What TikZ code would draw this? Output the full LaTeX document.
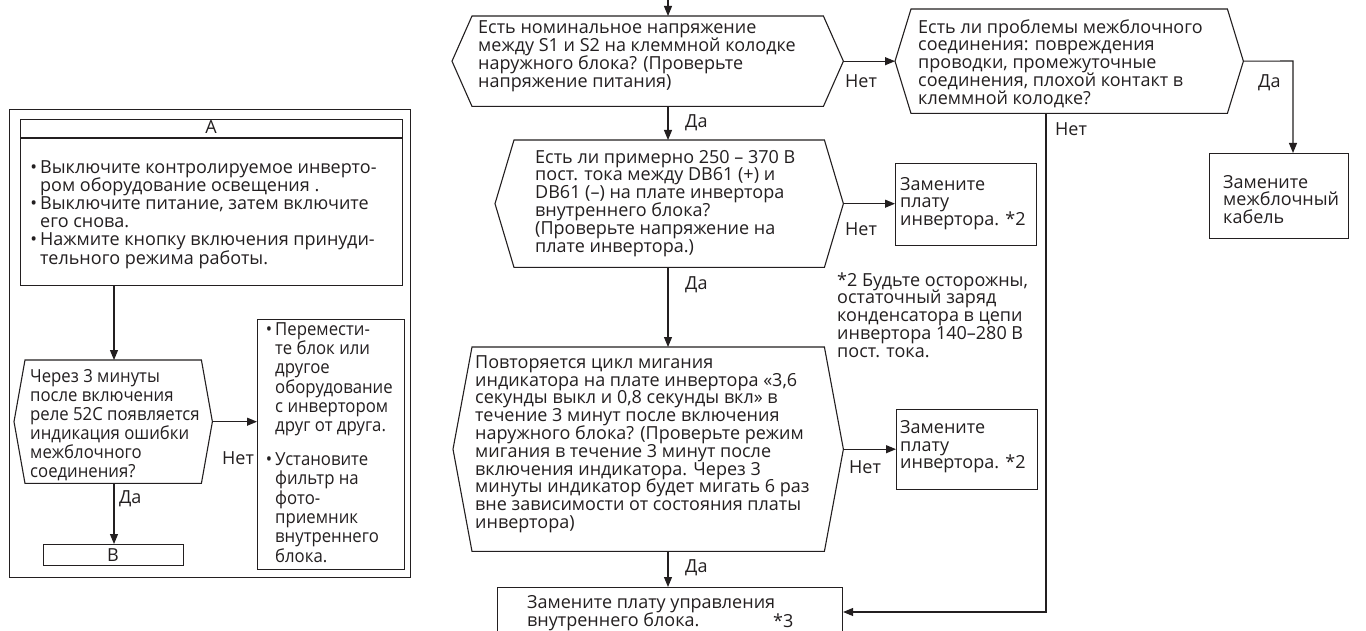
\documentclass[tikz,border=0pt]{standalone}
\usepackage{fontspec}
\setmainfont{Open Sans}
\newfontfamily\condf{Open Sans}[FakeStretch=0.93]
\usetikzlibrary{arrows.meta}
\definecolor{ink}{HTML}{231F20}
\newcommand\ts{\rule{0pt}{14pt}}
\newcommand\bul{\makebox[0pt][r]{•\hspace{3pt}}}
\newcommand\hexpath[2]{\draw[ln] (#1.west) -- ([xshift=#2]#1.north west) -- ([xshift=-#2]#1.north east) -- (#1.east) -- ([xshift=-#2]#1.south east) -- ([xshift=#2]#1.south west) -- cycle;}
\begin{document}
\lineskiplimit=-100pt
\lineskip=0pt
\begin{tikzpicture}[x=1pt,y=-1pt,
  ln/.style={draw=ink, line width=1.1pt},
  arr/.style={ln, -{Triangle[length=10pt,width=8pt]}},
  box/.style={draw=ink, line width=1.1pt, inner sep=0pt, anchor=north west},
  hexb/.style={inner sep=0pt, anchor=north west},
  txt/.style={inner sep=0pt, anchor=north west, align=left, text=ink, font=\fontsize{18}{17.8}\selectfont},
  txtL/.style={txt, font=\fontsize{18}{18.2}\selectfont},
  txtH/.style={txt, font=\condf\fontsize{18}{19}\selectfont},
  txtR/.style={txt, font=\condf\fontsize{18}{19.3}\selectfont},
  lbl/.style={inner sep=0pt, anchor=base west, text=ink, font=\fontsize{18}{18}\selectfont},
]
\useasboundingbox (0,0) rectangle (1366,631);
\fill[white] (0,0) rectangle (1366,631);

% ---------- left panel ----------
\node[box, minimum width=401, minimum height=468] (frameL) at (9,109) {};
\node[box, minimum width=382, minimum height=166] (bA) at (20,119) {};
\draw[ln] ([yshift=-19pt]bA.north west) -- ([yshift=-19pt]bA.north east);
\node[inner sep=0pt, anchor=base, text=ink, font=\fontsize{18}{18}\selectfont] (lA) at (211,134) {A};
\node[txtL] (tA) at (40,159) {\ts\bul Выключите контролируемое инверто-\\ром оборудование освещения .\\\bul Выключите питание, затем включите\\его снова.\\\bul Нажмите кнопку включения принуди-\\тельного режима работы.};

\node[hexb, minimum width=198, minimum height=123] (lh) at (14,360) {};
\hexpath{lh}{11pt}
\node[txtH] (tlh) at (30,368) {\ts Через 3 минуты\\после включения\\реле 52C появляется\\индикация ошибки\\межблочного\\соединения?};

\node[box, minimum width=147, minimum height=250] (lbox) at (257,319) {};
\node[txtR] (tlbox) at (275,321) {\ts\bul Перемести-\\те блок или\\другое\\оборудование\\с инвертором\\друг от друга.\\[14.5pt]\bul Установите\\фильтр на\\фото-\\приемник\\внутреннего\\блока.};

\node[box, minimum width=140, minimum height=21] (bB) at (43,544) {};
\node[inner sep=0pt, anchor=base, text=ink, font=\fontsize{18}{18}\selectfont] (lB) at (113,561) {B};

\coordinate (lx) at (114,300);
\draw[arr] (bA.south -| lx) -- (lx |- lh.north);
\draw[arr] (lh.east) -- (lh.east -| lbox.west);
\draw[arr] (lh.south -| lx) -- (lx |- bB.north);
\node[lbl] (nL) at (222,464) {Нет};
\node[lbl] (dL) at (119,503) {Да};

% ---------- centre column ----------
\coordinate (top) at (668,-2);
\node[hexb, minimum width=391, minimum height=90] (h1) at (452,16) {};
\hexpath{h1}{20pt}
\node[txt] (th1) at (478,19.5) {\ts Есть номинальное напряжение\\между S1 и S2 на клеммной колодке\\наружного блока? (Проверьте\\напряжение питания)};

\node[hexb, minimum width=348, minimum height=127] (h2) at (495,140) {};
\hexpath{h2}{19pt}
\node[txt] (th2) at (535,149) {\ts Есть ли примерно 250 – 370 В\\пост. тока между DB61 (+) и\\DB61 (–) на плате инвертора\\внутреннего блока?\\(Проверьте напряжение на\\плате инвертора.)};

\node[hexb, minimum width=390, minimum height=204] (h3) at (453,347) {};
\hexpath{h3}{19pt}
\node[txt] (th3) at (475,354) {\ts Повторяется цикл мигания\\индикатора на плате инвертора «3,6\\секунды выкл и 0,8 секунды вкл» в\\течение 3 минут после включения\\наружного блока? (Проверьте режим\\мигания в течение 3 минут после\\включения индикатора. Через 3\\минуты индикатор будет мигать 6 раз\\вне зависимости от состояния платы\\инвертора)};

\node[box, minimum width=345, minimum height=60] (bF) at (497,587) {};
\node[txt] (tF) at (527,594) {\ts Замените плату управления\\внутреннего блока.};
\node[lbl] (s3) at (773,627) {*3};

\draw[arr] (top) -- (top |- h1.north);
\draw[arr] (h1.south -| top) -- (top |- h2.north);
\draw[arr] (h2.south -| top) -- (top |- h3.north);
\draw[arr] (h3.south -| top) -- (top |- bF.north);
\node[lbl] (d1) at (685,128) {Да};
\node[lbl] (d2) at (685,290) {Да};
\node[lbl] (d3) at (685,572) {Да};

% ---------- right side ----------
\node[box, minimum width=141, minimum height=82] (b1) at (895,163) {};
\node[txt] (tb1) at (900,176) {\ts Замените\\плату\\инвертора. *2};
\node[box, minimum width=141, minimum height=80] (b2) at (896,409) {};
\node[txt] (tb2) at (900,419) {\ts Замените\\плату\\инвертора. *2};
\node[txt] (note) at (837,272) {\ts *2 Будьте осторожны,\\остаточный заряд\\конденсатора в цепи\\инвертора 140–280 В\\пост. тока.};

\node[hexb, minimum width=348, minimum height=104] (rh) at (895,9) {};
\hexpath{rh}{16pt}
\node[txt] (trh) at (918,19) {\ts Есть ли проблемы межблочного\\соединения: повреждения\\проводки, промежуточные\\соединения, плохой контакт в\\клеммной колодке?};

\node[box, minimum width=139, minimum height=85] (b3) at (1209,153) {};
\node[txt] (tb3) at (1223,174) {\ts Замените\\межблочный\\кабель};

\coordinate (cR) at (1293,61);
\coordinate (cB) at (1046,612);
\draw[arr] (h1.east) -- (rh.west);
\draw[arr] (h2.east) -- (h2.east -| b1.west);
\draw[arr] (h3.east) -- (h3.east -| b2.west);
\draw[arr] (rh.east) -- (cR) -- (cR |- b3.north);
\draw[arr] (rh.south -| cB) -- (cB) -- (cB -| bF.east);
\node[lbl] (n1) at (845,88) {Нет};
\node[lbl] (n2) at (845,236) {Нет};
\node[lbl] (n3) at (849,473) {Нет};
\node[lbl] (n4) at (1055,136) {Нет};
\node[lbl] (dR) at (1258,88) {Да};
\end{tikzpicture}
\end{document}
